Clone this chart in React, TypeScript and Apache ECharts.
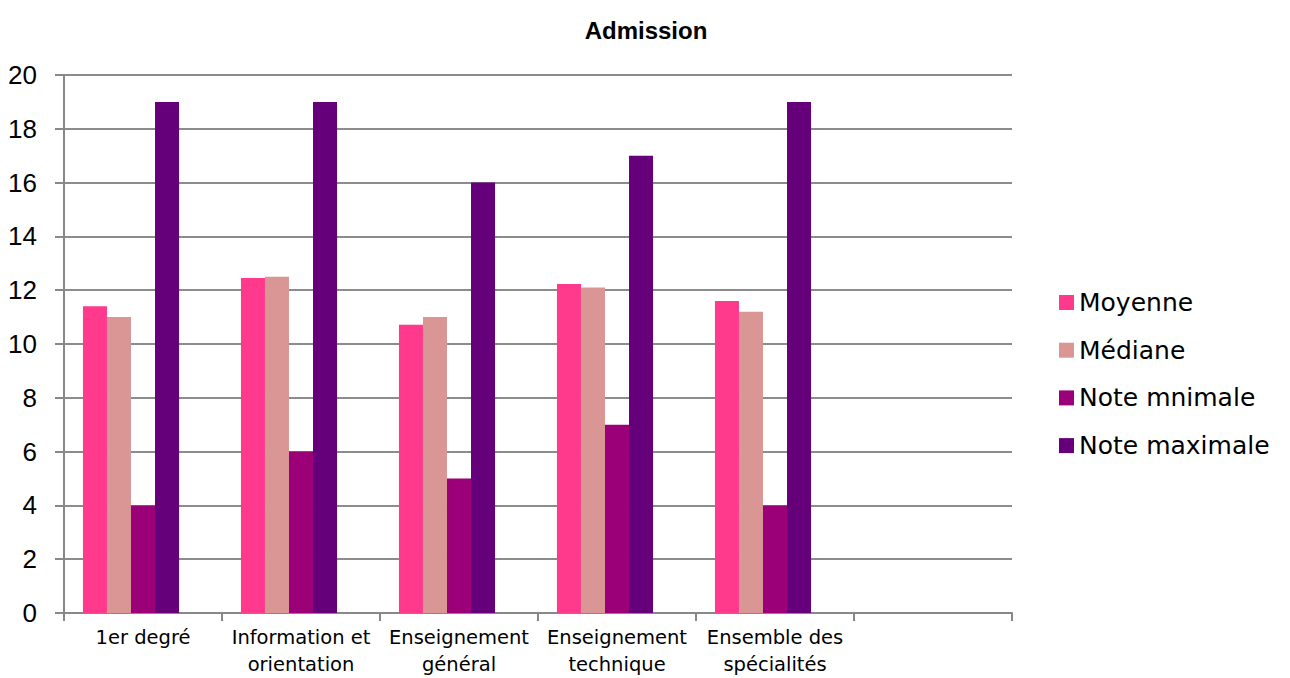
import React, { useEffect, useRef } from "react";
import * as echarts from "echarts";

const categories = [
  "1er degré",
  "Information et\norientation",
  "Enseignement\ngénéral",
  "Enseignement\ntechnique",
  "Ensemble des\nspécialités",
  "",
];
const moyenne = [11.4, 12.45, 10.72, 12.23, 11.6, null];
const mediane = [11.0, 12.5, 11.0, 12.1, 11.2, null];
const noteMin = [4, 6, 5, 7, 4, null];
const noteMax = [19, 19, 16, 17, 19, null];
const emptySeries = [null, null, null, null, null, null];
const seriesNames = ["Moyenne", "Médiane", "Note mnimale", "Note maximale"];
const colors = ["#FF3A8C", "#D99694", "#9B0078", "#66007A", "#ffffff"];

export default function App() {
  const ref = useRef<HTMLDivElement>(null);
  useEffect(() => {
    if (!ref.current) return;
    const chart = echarts.init(ref.current, null, { renderer: "svg" });
    const font = "'Liberation Sans', Arial, sans-serif";
    const narrow = "'Liberation Sans Narrow', 'Liberation Sans', Arial, sans-serif";
    const wide = "'DejaVu Sans', sans-serif";
    const data = [moyenne, mediane, noteMin, noteMax, emptySeries];
    const names = [...seriesNames, "_hidden"];
    chart.setOption({
      animation: false,
      color: colors,
      title: {
        text: "Admission",
        left: 641,
        top: 13,
        textAlign: "center",
        textStyle: { fontFamily: font, fontWeight: "bold", fontSize: 24, color: "#000" },
      },
      legend: {
        orient: "vertical",
        left: 1054,
        top: 285,
        itemWidth: 15,
        itemHeight: 15,
        itemGap: 22.7,
        icon: "rect",
        textStyle: { fontFamily: wide, fontSize: 25, lineHeight: 25, color: "#000" },
        data: seriesNames,
      },
      grid: { left: 64, right: 278, top: 75, bottom: 65, containLabel: false },
      xAxis: {
        type: "category",
        data: categories,
        axisLine: { lineStyle: { color: "#888", width: 2 } },
        axisTick: { show: true, alignWithLabel: false, length: 8, lineStyle: { color: "#888", width: 2 } },
        axisLabel: {
          interval: 0,
          fontFamily: wide,
          fontSize: 19.5,
          color: "#000",
          lineHeight: 27,
          margin: 11,
        },
      },
      yAxis: {
        type: "value",
        min: 0,
        max: 20,
        interval: 2,
        axisLine: { show: true, lineStyle: { color: "#888", width: 2 } },
        axisTick: { show: true, length: 9, lineStyle: { color: "#888", width: 2 } },
        splitLine: { lineStyle: { color: "#8c8c8c", width: 2 } },
        axisLabel: { fontFamily: narrow, fontSize: 26, color: "#000", margin: 27 },
      },
      series: names.map((name, i) => ({
        name,
        type: "bar",
        data: data[i],
        barGap: "0%",
        barCategoryGap: "24%",
        itemStyle: { color: colors[i] },
      })),
    });
    return () => chart.dispose();
  }, []);
  return <div ref={ref} style={{ width: 1290, height: 678, position: "absolute", left: 0, top: 0 }} />;
}
